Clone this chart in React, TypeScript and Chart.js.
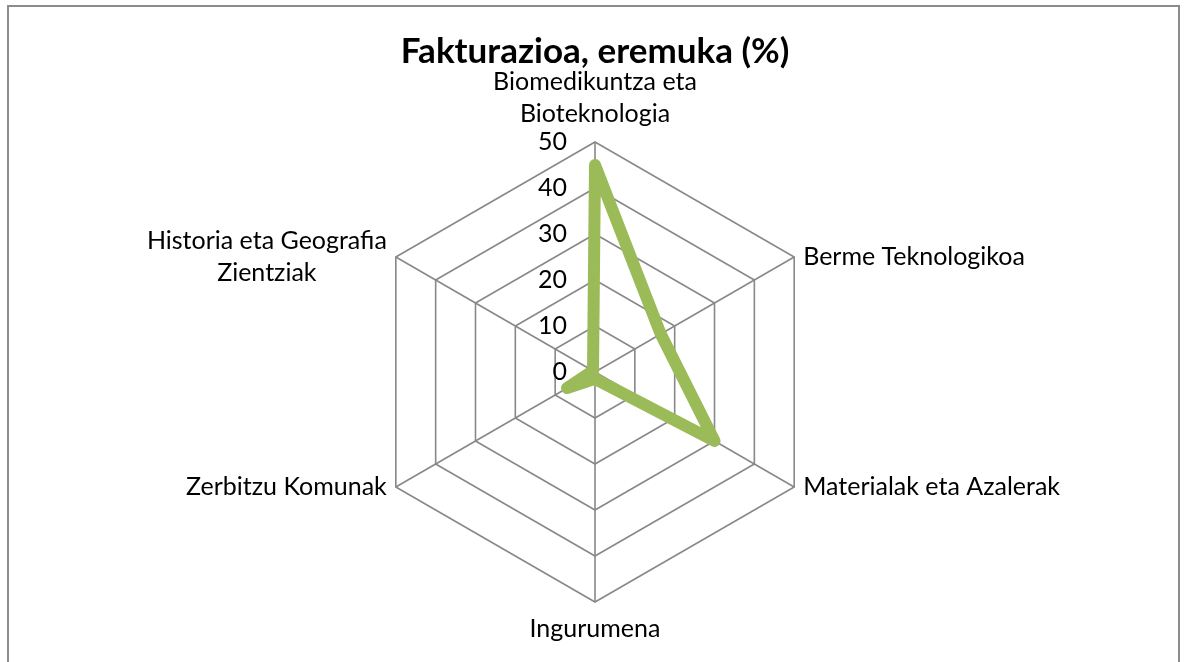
import React, { useEffect, useRef } from "react";
import { Chart, registerables } from "chart.js";

Chart.register(...registerables);

const TITLE = "Fakturazioa, eremuka (%)";
const categories: (string | string[])[] = [
  ["Biomedikuntza eta", "Bioteknologia"],
  "Berme Teknologikoa",
  "Materialak eta Azalerak",
  "Ingurumena",
  "Zerbitzu Komunak",
  ["Historia eta Geografia", "Zientziak"],
];
const values = [45, 16.5, 30, 1.5, 7, 0.5];
const axisMin = 0;
const axisMax = 50;
const axisStep = 10;

const FONT = "Lato";
const LABEL_SIZE = 25;
const LINE_H = 32;
const GRID = "#888888";
const SERIES = "#9BBB59";

const labelsPlugin = {
  id: "excelLabels",
  beforeDatasetsDraw(chart: any) {
    const scale = chart.scales.r;
    const ctx = chart.ctx;
    ctx.save();
    ctx.font = `${LABEL_SIZE}px ${FONT}`;
    ctx.fillStyle = "#000";
    ctx.textAlign = "right";
    ctx.textBaseline = "middle";
    scale.ticks.forEach((t: any) => {
      const p = scale.getPointPosition(0, scale.getDistanceFromCenterForValue(t.value));
      ctx.fillText(String(t.value), p.x - 28, p.y);
    });
    ctx.restore();
  },
  afterDraw(chart: any) {
    const scale = chart.scales.r;
    const ctx = chart.ctx;
    ctx.save();
    ctx.font = `${LABEL_SIZE}px ${FONT}`;
    ctx.fillStyle = "#000";
    ctx.textBaseline = "middle";
    const labels = chart.data.labels as (string | string[])[];
    labels.forEach((lab, i) => {
      const lines = Array.isArray(lab) ? lab : [lab];
      const p = scale.getPointPosition(i, scale.drawingArea);
      const dx = p.x - scale.xCenter;
      const dy = p.y - scale.yCenter;
      const blockH = lines.length * LINE_H;
      const maxW = Math.max(...lines.map((l) => ctx.measureText(l).width));
      let cx: number;
      let top: number;
      if (Math.abs(dx) < 1) {
        cx = p.x;
        top = dy < 0 ? p.y - 12 - blockH : p.y + 11;
      } else if (dx > 0) {
        cx = p.x + 9 + maxW / 2;
        top = p.y - blockH / 2;
      } else {
        cx = p.x - 9 - maxW / 2;
        top = p.y - blockH / 2;
      }
      ctx.textAlign = "center";
      lines.forEach((l, k) => {
        ctx.fillText(l, cx, top + LINE_H * k + LINE_H / 2);
      });
    });
    ctx.restore();
  },
};

export default function App() {
  const ref = useRef<HTMLCanvasElement | null>(null);
  useEffect(() => {
    if (!ref.current) return;
    const chart = new Chart(ref.current, {
      type: "radar",
      data: {
        labels: categories as any,
        datasets: [
          {
            data: values,
            borderColor: SERIES,
            borderWidth: 12,
            pointRadius: 0,
            pointHoverRadius: 0,
            fill: false,
            borderJoinStyle: "round",
            borderCapStyle: "round",
            tension: 0,
          },
        ],
      },
      options: {
        responsive: false,
        animation: false,
        layout: { padding: { left: 356, right: 353, top: 0, bottom: 85 } },
        plugins: {
          legend: { display: false },
          tooltip: { enabled: false },
          title: {
            display: true,
            text: TITLE,
            color: "#000",
            font: { family: FONT, size: 35, weight: "bold", lineHeight: 1.2 },
            padding: { top: 24, bottom: 69 },
          },
        },
        scales: {
          r: {
            min: axisMin,
            max: axisMax,
            ticks: { stepSize: axisStep, display: false },
            pointLabels: { display: false },
            grid: { color: GRID, lineWidth: 1.6 },
            angleLines: { color: GRID, lineWidth: 1.6 },
          },
        },
      },
      plugins: [labelsPlugin],
    } as any);
    return () => chart.destroy();
  }, []);
  return (
    <div
      style={{
        position: "absolute",
        left: 7,
        top: 5,
        width: 1173,
        height: 700,
        border: "2px solid #8c8c8c",
        boxSizing: "border-box",
        background: "#fff",
      }}
    >
      <canvas ref={ref} width={1169} height={680} style={{ display: "block" }} />
    </div>
  );
}
